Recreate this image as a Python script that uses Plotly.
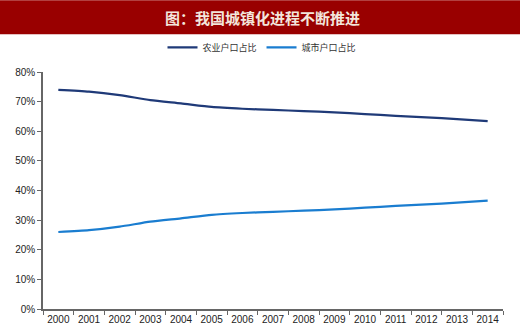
import plotly.graph_objects as go

years = [str(y) for y in range(2000, 2015)]
agri_share = [74.0, 73.4, 72.2, 70.5, 69.4, 68.2, 67.6, 67.2, 66.8, 66.4, 65.8, 65.2, 64.7, 64.1, 63.4]
urban_share = [26.0, 26.6, 27.8, 29.5, 30.6, 31.8, 32.4, 32.8, 33.2, 33.6, 34.2, 34.8, 35.3, 35.9, 36.6]
series_names = ["农业户口占比", "城市户口占比"]
title_text = "图：我国城镇化进程不断推进"

W, H = 520, 333
L, R, T, B = 43, 17, 71.7, 24.3
plot_w = W - L - R
plot_h = H - T - B

fig = go.Figure()
fig.add_trace(go.Scatter(
    x=years, y=[v / 100 for v in agri_share], name=series_names[0],
    mode="lines", line=dict(color="#1F3A78", width=2.2, shape="spline", smoothing=0.6),
))
fig.add_trace(go.Scatter(
    x=years, y=[v / 100 for v in urban_share], name=series_names[1],
    mode="lines", line=dict(color="#1A7DD0", width=2.2, shape="spline", smoothing=0.6),
))

# red title banner across the top
def px_x(px):
    return (px - L) / plot_w

def px_y(py):
    return (H - B - py) / plot_h

fig.add_shape(type="rect", xref="paper", yref="paper",
              x0=px_x(0), x1=px_x(W), y0=px_y(34), y1=px_y(0),
              fillcolor="#990000", line=dict(width=0), layer="above")
fig.add_annotation(xref="paper", yref="paper", x=px_x(262), y=px_y(17),
                   text="<b>" + title_text + "</b>", showarrow=False,
                   font=dict(family="Noto Sans CJK SC", size=15, color="#F3E6DC"),
                   xanchor="center", yanchor="middle")

fig.update_layout(
    width=W, height=H,
    margin=dict(l=L, r=R, t=T, b=B, pad=0, autoexpand=False),
    paper_bgcolor="white", plot_bgcolor="white",
    showlegend=True,
    legend=dict(orientation="h", x=px_x(262), xanchor="center",
                y=px_y(47), yanchor="middle",
                font=dict(family="Noto Sans CJK SC", size=9, color="#333333"),
                itemwidth=30, tracegroupgap=0, bgcolor="rgba(0,0,0,0)"),
    xaxis=dict(type="category", tickson="boundaries", ticks="outside", ticklen=4,
               tickcolor="#666666", showline=True, linecolor="#666666", linewidth=1.5,
               showgrid=False, tickangle=0, automargin=False,
               tickfont=dict(family="Arial", size=10, color="#222222"),
               range=[-0.5, 14.5]),
    yaxis=dict(range=[0, 0.8], dtick=0.1, tickformat=".0%", ticks="outside", ticklen=4,
               tickcolor="#666666", showline=True, linecolor="#666666", linewidth=1.5,
               showgrid=False, zeroline=False, automargin=False,
               tickfont=dict(family="Arial", size=10, color="#222222")),
)

fig.write_html("out.html")
